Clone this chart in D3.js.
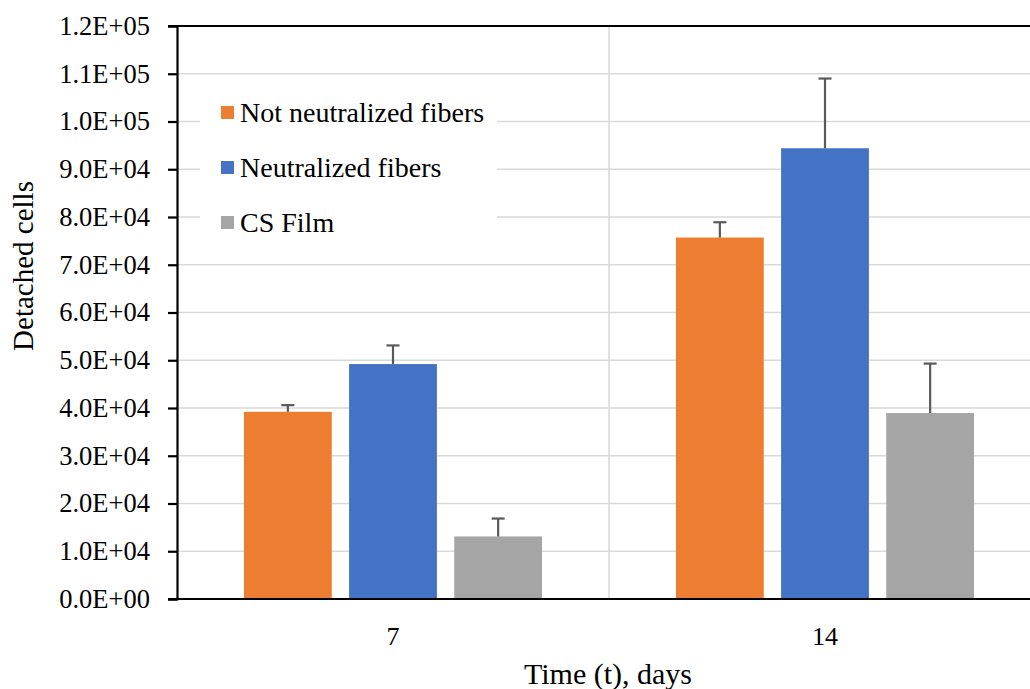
<!DOCTYPE html>
<html>
<head>
<meta charset="utf-8">
<script src="https://cdn.jsdelivr.net/npm/d3@7"></script>
<style>
  html, body { margin: 0; padding: 0; background: #fff; }
  svg { display: block; }
  svg text { font-family: "Liberation Serif", "DejaVu Serif", serif !important; fill: #000; }
</style>
</head>
<body>
<svg id="chart" width="1030" height="689" font-family="Liberation Serif, serif"></svg>
<script>
const categories = ["7", "14"];
const seriesNames = ["Not neutralized fibers", "Neutralized fibers", "CS Film"];
const seriesColors = ["#ED7D31", "#4472C4", "#A5A5A5"];
const notNeutralized = [39200, 75700];
const neutralized = [49200, 94400];
const csFilm = [13100, 38950];
const errNotNeutralized = [1400, 3200];
const errNeutralized = [3900, 14600];
const errCsFilm = [3750, 10350];
const yTicks = [0, 10000, 20000, 30000, 40000, 50000, 60000, 70000, 80000, 90000, 100000, 110000, 120000];
const yTickLabels = ["0.0E+00", "1.0E+04", "2.0E+04", "3.0E+04", "4.0E+04", "5.0E+04", "6.0E+04", "7.0E+04", "8.0E+04", "9.0E+04", "1.0E+05", "1.1E+05", "1.2E+05"];

const seriesValues = [notNeutralized, neutralized, csFilm];
const seriesErrors = [errNotNeutralized, errNeutralized, errCsFilm];

(function () {
const svg = d3.select("#chart");
const pLeft = 177, pTop = 26, pBottom = 599, pRight = 1041;

const x0 = d3.scaleBand().domain(categories).range([pLeft, pRight]).paddingInner(0).paddingOuter(0);
const bw = x0.bandwidth();
const x1 = d3.scaleBand().domain(seriesNames).range([bw * 0.155, bw * 0.845]).paddingInner(0.165).paddingOuter(0);
const y = d3.scaleLinear().domain([0, 120000]).range([pBottom, pTop]);

// horizontal gridlines
svg.append("g").selectAll("line").data(yTicks.filter(d => d > 0 && d < 120000)).join("line")
  .attr("x1", pLeft).attr("x2", 1030)
  .attr("y1", d => y(d)).attr("y2", d => y(d))
  .attr("stroke", "#d9d9d9").attr("stroke-width", 1.5);

// vertical gridline between categories
svg.append("g").selectAll("line").data(categories.slice(1)).join("line")
  .attr("x1", d => x0(d)).attr("x2", d => x0(d))
  .attr("y1", pTop).attr("y2", pBottom)
  .attr("stroke", "#d9d9d9").attr("stroke-width", 1.5);

// bars
const groups = svg.append("g").selectAll("g").data(seriesNames).join("g")
  .attr("fill", (d, i) => seriesColors[i]);
groups.each(function (name, si) {
  d3.select(this).selectAll("rect").data(categories).join("rect")
    .attr("x", (c) => x0(c) + x1(name))
    .attr("width", x1.bandwidth())
    .attr("y", (c, ci) => y(seriesValues[si][ci]))
    .attr("height", (c, ci) => pBottom - y(seriesValues[si][ci]));
});

// error bars
const capW = 13;
seriesNames.forEach((name, si) => {
  const g = svg.append("g").attr("stroke", "#595959").attr("stroke-width", 2.2);
  categories.forEach((c, ci) => {
    const cx = x0(c) + x1(name) + x1.bandwidth() / 2;
    const v = seriesValues[si][ci], e = seriesErrors[si][ci];
    g.append("line").attr("x1", cx).attr("x2", cx).attr("y1", y(v)).attr("y2", y(v + e));
    g.append("line").attr("x1", cx - capW / 2).attr("x2", cx + capW / 2).attr("y1", y(v + e)).attr("y2", y(v + e));
  });
});

// legend background
svg.append("rect").attr("x", 200).attr("y", 86).attr("width", 297).attr("height", 158).attr("fill", "#fff");
const legend = svg.append("g");
seriesNames.forEach((name, i) => {
  const ly = 112 + i * 55;
  legend.append("rect").attr("x", 221).attr("y", ly - 6).attr("width", 13).attr("height", 13).attr("fill", seriesColors[i]);
  legend.append("text").attr("x", 240).attr("y", ly).attr("dy", "0.35em")
    .attr("font-size", 28).text(name);
});

// y axis
const yAxis = d3.axisLeft(y).tickValues(yTicks).tickFormat((d, i) => yTickLabels[i]).tickSize(9).tickPadding(18);
const ya = svg.append("g").attr("transform", `translate(${pLeft},0)`).call(yAxis)
  .attr("font-family", null).attr("font-size", 26.5);
ya.select(".domain").attr("stroke", "#000").attr("stroke-width", 2.2);
ya.selectAll(".tick line").attr("stroke", "#000").attr("stroke-width", 2.2);

// x axis
const xAxis = d3.axisBottom(x0).tickSize(0).tickPadding(28);
const xa = svg.append("g").attr("transform", `translate(0,${pBottom})`).call(xAxis)
  .attr("font-family", null).attr("font-size", 26);
xa.select(".domain").remove();
svg.append("line").attr("x1", pLeft - 9).attr("x2", 1030).attr("y1", pBottom).attr("y2", pBottom)
  .attr("stroke", "#000").attr("stroke-width", 2.2);
// top border
svg.append("line").attr("x1", pLeft - 9).attr("x2", 1030).attr("y1", pTop).attr("y2", pTop)
  .attr("stroke", "#000").attr("stroke-width", 2.2);

// axis titles
svg.append("text").attr("x", 608).attr("y", 684).attr("text-anchor", "middle")
  .attr("font-size", 30).text("Time (t), days");
svg.append("text").attr("transform", "translate(33,266) rotate(-90)").attr("text-anchor", "middle")
  .attr("font-size", 29).text("Detached cells");
})();
</script>
</body>
</html>
